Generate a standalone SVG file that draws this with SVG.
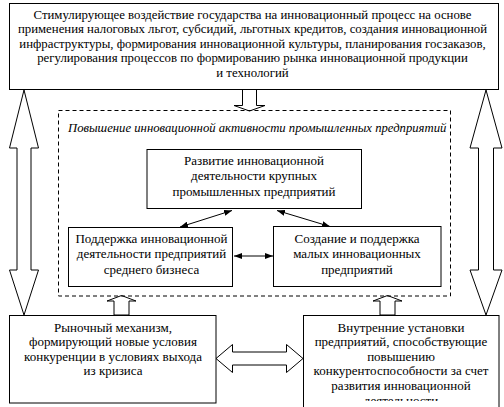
<svg xmlns="http://www.w3.org/2000/svg" width="504" height="407" viewBox="0 0 504 407">
<style>
.box{fill:#fff;stroke:#000;stroke-width:1}
.dash{fill:none;stroke:#000;stroke-width:1;stroke-dasharray:4 3}
.big{fill:#fff;stroke:#000;stroke-width:1;stroke-linejoin:miter}
.thin{stroke:#000;stroke-width:1;fill:none;marker-start:url(#ah);marker-end:url(#ah)}
.t{font-family:'Liberation Serif','DejaVu Serif',serif;font-size:13px;fill:#000;text-anchor:middle}
.sm{font-size:12.8px}
.it{font-style:italic;text-anchor:start;font-size:12.7px}
</style>
<defs>
<marker id="ah" viewBox="0 0 8 6" refX="8" refY="3" markerWidth="8" markerHeight="6" markerUnits="userSpaceOnUse" orient="auto-start-reverse">
<path d="M0,0 L8,3 L0,6 z" fill="#000"/>
</marker>
<clipPath id="rclip"><rect x="303" y="315" width="197" height="86"/></clipPath>
</defs>
<g id="connectors">
<polygon class="big" points="24,90 38.5,148 31,148 31,270 38.5,270 24,315 9.5,270 17,270 17,148 9.5,148"/>
<polygon class="big" points="486,90 502,148 493.5,148 493.5,270 502,270 486,315 470,270 478.5,270 478.5,148 470,148"/>
<polygon class="big" points="242.5,89.5 256.5,89.5 256.5,105.5 265,105.5 249.5,111 234,105.5 242.5,105.5"/>
<polygon class="big" points="114,315 114,301 107,301 121.5,295.5 136,301 129,301 129,315"/>
<polygon class="big" points="380,315 380,301 373,301 387.5,295.5 402,301 395,301 395,315"/>
<polygon class="big" points="216,358.5 232.5,344.5 232.5,352 286.5,352 286.5,344.5 303,358.5 286.5,372.5 286.5,365 232.5,365 232.5,372.5"/>
<line class="thin" x1="180" y1="227" x2="232" y2="210.5"/>
<line class="thin" x1="277" y1="210.5" x2="330" y2="226.5"/>
<line class="thin" x1="234" y1="256" x2="273" y2="256"/>
</g>
<g id="top">
<rect class="box" x="9.5" y="3.5" width="489" height="86"/>
<text class="t sm" x="252.5" y="19">Стимулирующее воздействие государства на инновационный процесс на основе</text>
<text class="t sm" x="252.5" y="33.4">применения налоговых льгот, субсидий, льготных кредитов, создания инновационной</text>
<text class="t sm" x="252.5" y="47.8">инфраструктуры, формирования инновационной культуры, планирования госзаказов,</text>
<text class="t sm" x="252.5" y="62.2">регулирования процессов по формированию рынка инновационной продукции</text>
<text class="t sm" x="252.5" y="76.6">и технологий</text>
</g>
<g id="activity">
<rect class="dash" x="58.5" y="110.5" width="392" height="185.5"/>
<text class="t it" x="68" y="132">Повышение инновационной активности промышленных предприятий</text>
</g>
<g id="large">
<rect class="box" x="147" y="149.5" width="214.5" height="59"/>
<text class="t" x="254" y="164.5">Развитие инновационной</text>
<text class="t" x="254" y="180">деятельности крупных</text>
<text class="t" x="254" y="195.5">промышленных предприятий</text>
</g>
<g id="medium">
<rect class="box" x="68.5" y="227.5" width="164" height="59"/>
<text class="t" x="151.5" y="242.5">Поддержка инновационной</text>
<text class="t" x="151.5" y="258">деятельности предприятий</text>
<text class="t" x="151.5" y="273.5">среднего бизнеса</text>
</g>
<g id="small">
<rect class="box" x="273.5" y="226.5" width="167.5" height="60"/>
<text class="t" x="357" y="242.5">Создание и поддержка</text>
<text class="t" x="357" y="258">малых инновационных</text>
<text class="t" x="357" y="273.5">предприятий</text>
</g>
<g id="market">
<rect class="box" x="9.5" y="315.5" width="206.5" height="87.5"/>
<text class="t" x="113" y="331.5">Рыночный механизм,</text>
<text class="t" x="113" y="346">формирующий новые условия</text>
<text class="t" x="113" y="360.5">конкуренции в условиях выхода</text>
<text class="t" x="113" y="375">из кризиса</text>
</g>
<g id="internal">
<rect class="box" x="303.5" y="315.5" width="195.5" height="110"/>
<g clip-path="url(#rclip)">
<text class="t" x="401" y="331.5">Внутренние установки</text>
<text class="t" x="401" y="346">предприятий, способствующие</text>
<text class="t" x="401" y="360.5">повышению</text>
<text class="t" x="401" y="375">конкурентоспособности за счет</text>
<text class="t" x="401" y="389.5">развития инновационной</text>
<text class="t" x="401" y="405">деятельности</text>
</g>
</g>
</svg>
